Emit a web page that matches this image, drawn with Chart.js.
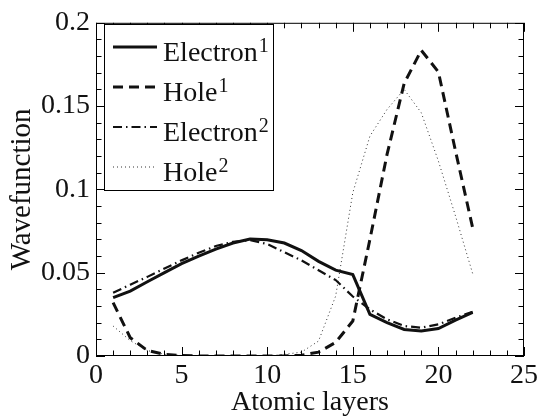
<!DOCTYPE html>
<html>
<head>
<meta charset="utf-8">
<script src="https://cdn.jsdelivr.net/npm/chart.js@4/dist/chart.umd.min.js"></script>
<style>
  html, body { margin: 0; padding: 0; background: #fff; }
  #wrap { width: 541px; height: 420px; }
</style>
</head>
<body>
<div id="wrap"><canvas id="c" width="541" height="420"></canvas></div>
<script>
// ---- data ----
const layers = [1,2,3,4,5,6,7,8,9,10,11,12,13,14,15,16,17,18,19,20,21,22];
const electron1 = [0.035,0.039,0.0446,0.050,0.0554,0.060,0.0642,0.0678,0.0702,0.0698,0.0678,0.0633,0.0568,0.0515,0.0489,0.025,0.020,0.0159,0.015,0.0165,0.0215,0.0262];
const hole1     = [0.032,0.011,0.0033,0.001,0.0003,0,0,0,0,0,0,0.0005,0.0023,0.0082,0.021,0.070,0.121,0.1636,0.1835,0.1705,0.123,0.077];
const electron2 = [0.038,0.0428,0.0475,0.0525,0.0574,0.062,0.066,0.0685,0.0696,0.0672,0.0623,0.0574,0.0515,0.0456,0.0357,0.028,0.022,0.018,0.017,0.019,0.023,0.0265];
const hole2     = [0.018,0.0092,0.0033,0.001,0.0003,0,0,0,0,0,0.001,0.0023,0.009,0.036,0.098,0.132,0.148,0.160,0.146,0.117,0.084,0.0495];
const seriesNames = ['Electron','Hole','Electron','Hole'];
const seriesSups  = ['1','1','2','2'];
const xTitle = 'Atomic layers';
const yTitle = 'Wavefunction';

const FONT = "'Liberation Serif', 'Times New Roman', serif";
const toXY = vals => layers.map((x, i) => ({x: x, y: vals[i]}));

const styles = [
  {borderWidth: 3,   borderDash: []},
  {borderWidth: 3,   borderDash: [10, 6]},
  {borderWidth: 2.2, borderDash: [9, 4, 1.5, 4]},
  {borderWidth: 1,   borderDash: [1, 3]}
];
const seriesVals = [electron1, hole1, electron2, hole2];

const datasets = seriesVals.map((v, i) => ({
  label: seriesNames[i] + seriesSups[i],
  data: toXY(v),
  borderColor: i === 3 ? '#333' : '#111',
  borderWidth: styles[i].borderWidth,
  borderDash: styles[i].borderDash,
  pointRadius: 0,
  tension: 0,
  fill: false
}));

const frameTicks = {
  id: 'frameTicks',
  afterDraw(chart) {
    const {ctx, chartArea: a, scales: {x, y}} = chart;
    ctx.save();
    ctx.strokeStyle = '#000';
    ctx.lineWidth = 1;
    ctx.setLineDash([]);
    ctx.strokeRect(a.left + 0.5, a.top + 0.5, a.right - a.left - 1, a.bottom - a.top - 1);
    ctx.beginPath();
    for (let i = 0; i <= 25; i++) {
      const px = Math.round(x.getPixelForValue(i)) + 0.5;
      const len = i % 5 === 0 ? 9 : 5.5;
      ctx.moveTo(px, a.bottom); ctx.lineTo(px, a.bottom - len);
      ctx.moveTo(px, a.top); ctx.lineTo(px, a.top + len);
    }
    for (let j = 0; j <= 20; j++) {
      const py = Math.round(y.getPixelForValue(j / 100)) + 0.5;
      const len = j % 5 === 0 ? 9 : 5.5;
      ctx.moveTo(a.left, py); ctx.lineTo(a.left + len, py);
      ctx.moveTo(a.right, py); ctx.lineTo(a.right - len, py);
    }
    ctx.stroke();

    // legend
    const bx = 104.5, by = 24.5, bw = 169, bh = 166;
    ctx.fillStyle = '#fff';
    ctx.fillRect(bx, by, bw, bh);
    ctx.strokeRect(bx, by, bw, bh);
    chart.data.datasets.forEach((ds, i) => {
      const ry = 47 + i * 40;
      ctx.beginPath();
      ctx.strokeStyle = ds.borderColor;
      ctx.lineWidth = ds.borderWidth;
      ctx.setLineDash(ds.borderDash);
      ctx.moveTo(113, ry); ctx.lineTo(157, ry);
      ctx.stroke();
      ctx.setLineDash([]);
      ctx.fillStyle = '#111';
      ctx.textAlign = 'left';
      ctx.textBaseline = 'alphabetic';
      ctx.font = '28px ' + FONT;
      ctx.fillText(seriesNames[i], 163, ry + 14);
      const w = ctx.measureText(seriesNames[i]).width;
      ctx.font = '20px ' + FONT;
      ctx.fillText(seriesSups[i], 163 + w + 1, ry + 5);
    });
    ctx.restore();
  }
};

new Chart(document.getElementById('c'), {
  type: 'line',
  data: {datasets},
  options: {
    responsive: false,
    animation: false,
    layout: {padding: {top: 17, right: 13, left: 0, bottom: 0}},
    plugins: {legend: {display: false}, tooltip: {enabled: false}},
    scales: {
      x: {
        type: 'linear', min: 0, max: 25,
        grid: {display: false, drawTicks: false},
        border: {display: false},
        ticks: {stepSize: 5, color: '#111', padding: 3, font: {family: FONT, size: 28}, maxRotation: 0},
        title: {display: true, text: xTitle, color: '#111', font: {family: FONT, size: 28}, padding: {top: 0, bottom: 1}},
        afterFit(s) { s.height = 64; }
      },
      y: {
        min: 0, max: 0.2,
        grid: {display: false, drawTicks: false},
        border: {display: false},
        ticks: {stepSize: 0.05, color: '#111', padding: 6, font: {family: FONT, size: 28},
          callback: v => String(Number(v.toFixed(2)))},
        title: {display: true, text: yTitle, color: '#111', font: {family: FONT, size: 29}, padding: {top: 5, bottom: 0}},
        afterFit(s) { s.width = 96; }
      }
    }
  },
  plugins: [frameTicks]
});
</script>
</body>
</html>
